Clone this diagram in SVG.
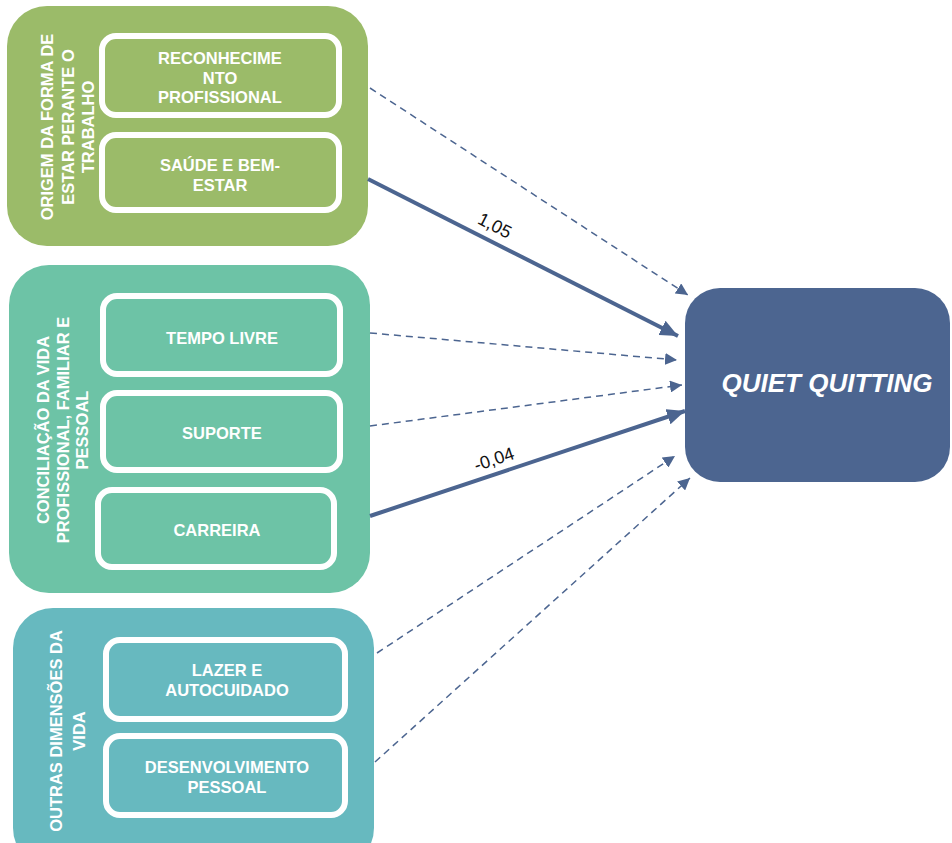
<svg xmlns="http://www.w3.org/2000/svg" width="952" height="843" viewBox="0 0 952 843">
  <style>
    .grp-label { font-family: "Liberation Sans", Arial, sans-serif; font-weight: bold; font-size: 16.5px; fill: #ffffff; text-anchor: middle; }
    .item { fill: none; stroke: #ffffff; stroke-width: 6; }
    .item-text { font-family: "Liberation Sans", Arial, sans-serif; font-weight: bold; font-size: 16.5px; fill: #ffffff; text-anchor: middle; }
    .solid { stroke: #4c6590; stroke-width: 4; fill: none; }
    .dashed { stroke: #4c6590; stroke-width: 1.5; stroke-dasharray: 7 5; fill: none; }
    .coef { font-family: "Liberation Sans", Arial, sans-serif; font-size: 18px; fill: #111111; text-anchor: middle; }
  </style>
  <defs>
    <marker id="arrow-big" markerUnits="userSpaceOnUse" markerWidth="20" markerHeight="16" refX="18" refY="8" orient="auto">
      <path d="M0,0 L18,8 L0,16 Z" fill="#4c6590"/>
    </marker>
    <marker id="arrow-small" markerUnits="userSpaceOnUse" markerWidth="14" markerHeight="12" refX="12" refY="6" orient="auto">
      <path d="M0,0 L12,6 L0,12 Z" fill="#4c6590"/>
    </marker>
  </defs>

  <rect width="952" height="843" fill="#ffffff"/>

  <!-- Group: origem da forma de estar perante o trabalho -->
  <g id="grupo-origem">
    <rect x="7" y="6" width="361" height="240" rx="40" fill="#9bbb69"/>
    <g class="grp-label">
      <text transform="translate(53,127) rotate(-90)">ORIGEM DA FORMA DE</text>
      <text transform="translate(74,127) rotate(-90)">ESTAR PERANTE O</text>
      <text transform="translate(94,127) rotate(-90)">TRABALHO</text>
    </g>
  </g>
  <g id="reconhecimento">
    <rect class="item" x="102" y="36" width="237" height="79" rx="14"/>
    <text class="item-text" x="220" y="64">RECONHECIME</text>
    <text class="item-text" x="220" y="84">NTO</text>
    <text class="item-text" x="220" y="103">PROFISSIONAL</text>
  </g>
  <g id="saude">
    <rect class="item" x="102" y="135" width="237" height="75" rx="14"/>
    <text class="item-text" x="220" y="171">SAÚDE E BEM-</text>
    <text class="item-text" x="220" y="191">ESTAR</text>
  </g>

  <!-- Group: conciliação da vida profissional, familiar e pessoal -->
  <g id="grupo-conciliacao">
    <rect x="9" y="265" width="361" height="328" rx="40" fill="#6dc3a6"/>
    <g class="grp-label">
      <text transform="translate(49,430) rotate(-90)">CONCILIAÇÃO DA VIDA</text>
      <text transform="translate(69,430) rotate(-90)">PROFISSIONAL, FAMILIAR E</text>
      <text transform="translate(88,430) rotate(-90)">PESSOAL</text>
    </g>
  </g>
  <g id="tempo-livre">
    <rect class="item" x="103" y="296" width="237" height="78" rx="14"/>
    <text class="item-text" x="222" y="344">TEMPO LIVRE</text>
  </g>
  <g id="suporte">
    <rect class="item" x="103" y="393" width="237" height="77" rx="14"/>
    <text class="item-text" x="222" y="439">SUPORTE</text>
  </g>
  <g id="carreira">
    <rect class="item" x="98" y="490" width="236" height="77" rx="14"/>
    <text class="item-text" x="217" y="536">CARREIRA</text>
  </g>

  <!-- Group: outras dimensões da vida -->
  <g id="grupo-outras">
    <rect x="13" y="608" width="361" height="260" rx="40" fill="#67b9bf"/>
    <g class="grp-label">
      <text transform="translate(62,731) rotate(-90)">OUTRAS DIMENSÕES DA</text>
      <text transform="translate(85,731) rotate(-90)">VIDA</text>
    </g>
  </g>
  <g id="lazer">
    <rect class="item" x="106" y="640" width="239" height="79" rx="14"/>
    <text class="item-text" x="227" y="676">LAZER E</text>
    <text class="item-text" x="227" y="696">AUTOCUIDADO</text>
  </g>
  <g id="desenvolvimento">
    <rect class="item" x="106" y="736" width="239" height="79" rx="14"/>
    <text class="item-text" x="227" y="773">DESENVOLVIMENTO</text>
    <text class="item-text" x="227" y="793">PESSOAL</text>
  </g>

  <!-- Outcome -->
  <g id="quiet-quitting">
    <rect x="685" y="288" width="265" height="194" rx="35" fill="#4c6590"/>
    <text x="827" y="392" font-family="'Liberation Sans', Arial, sans-serif" font-weight="bold" font-style="italic" font-size="26" fill="#ffffff" text-anchor="middle">QUIET QUITTING</text>
  </g>

  <!-- Paths -->
  <g id="connectors">
    <line class="dashed" x1="370" y1="88" x2="688" y2="295" marker-end="url(#arrow-small)"/>
    <line class="solid" x1="368" y1="179" x2="678" y2="336" marker-end="url(#arrow-big)"/>
    <line class="dashed" x1="370" y1="333" x2="677" y2="360" marker-end="url(#arrow-small)"/>
    <line class="dashed" x1="370" y1="426" x2="682" y2="385" marker-end="url(#arrow-small)"/>
    <line class="solid" x1="370" y1="516" x2="685" y2="411" marker-end="url(#arrow-big)"/>
    <line class="dashed" x1="377" y1="653" x2="675" y2="456" marker-end="url(#arrow-small)"/>
    <line class="dashed" x1="375" y1="762" x2="690" y2="478" marker-end="url(#arrow-small)"/>
    <text class="coef" transform="translate(492,231) rotate(27)">1,05</text>
    <text class="coef" transform="translate(496,465) rotate(-18.4)">-0,04</text>
  </g>
</svg>
